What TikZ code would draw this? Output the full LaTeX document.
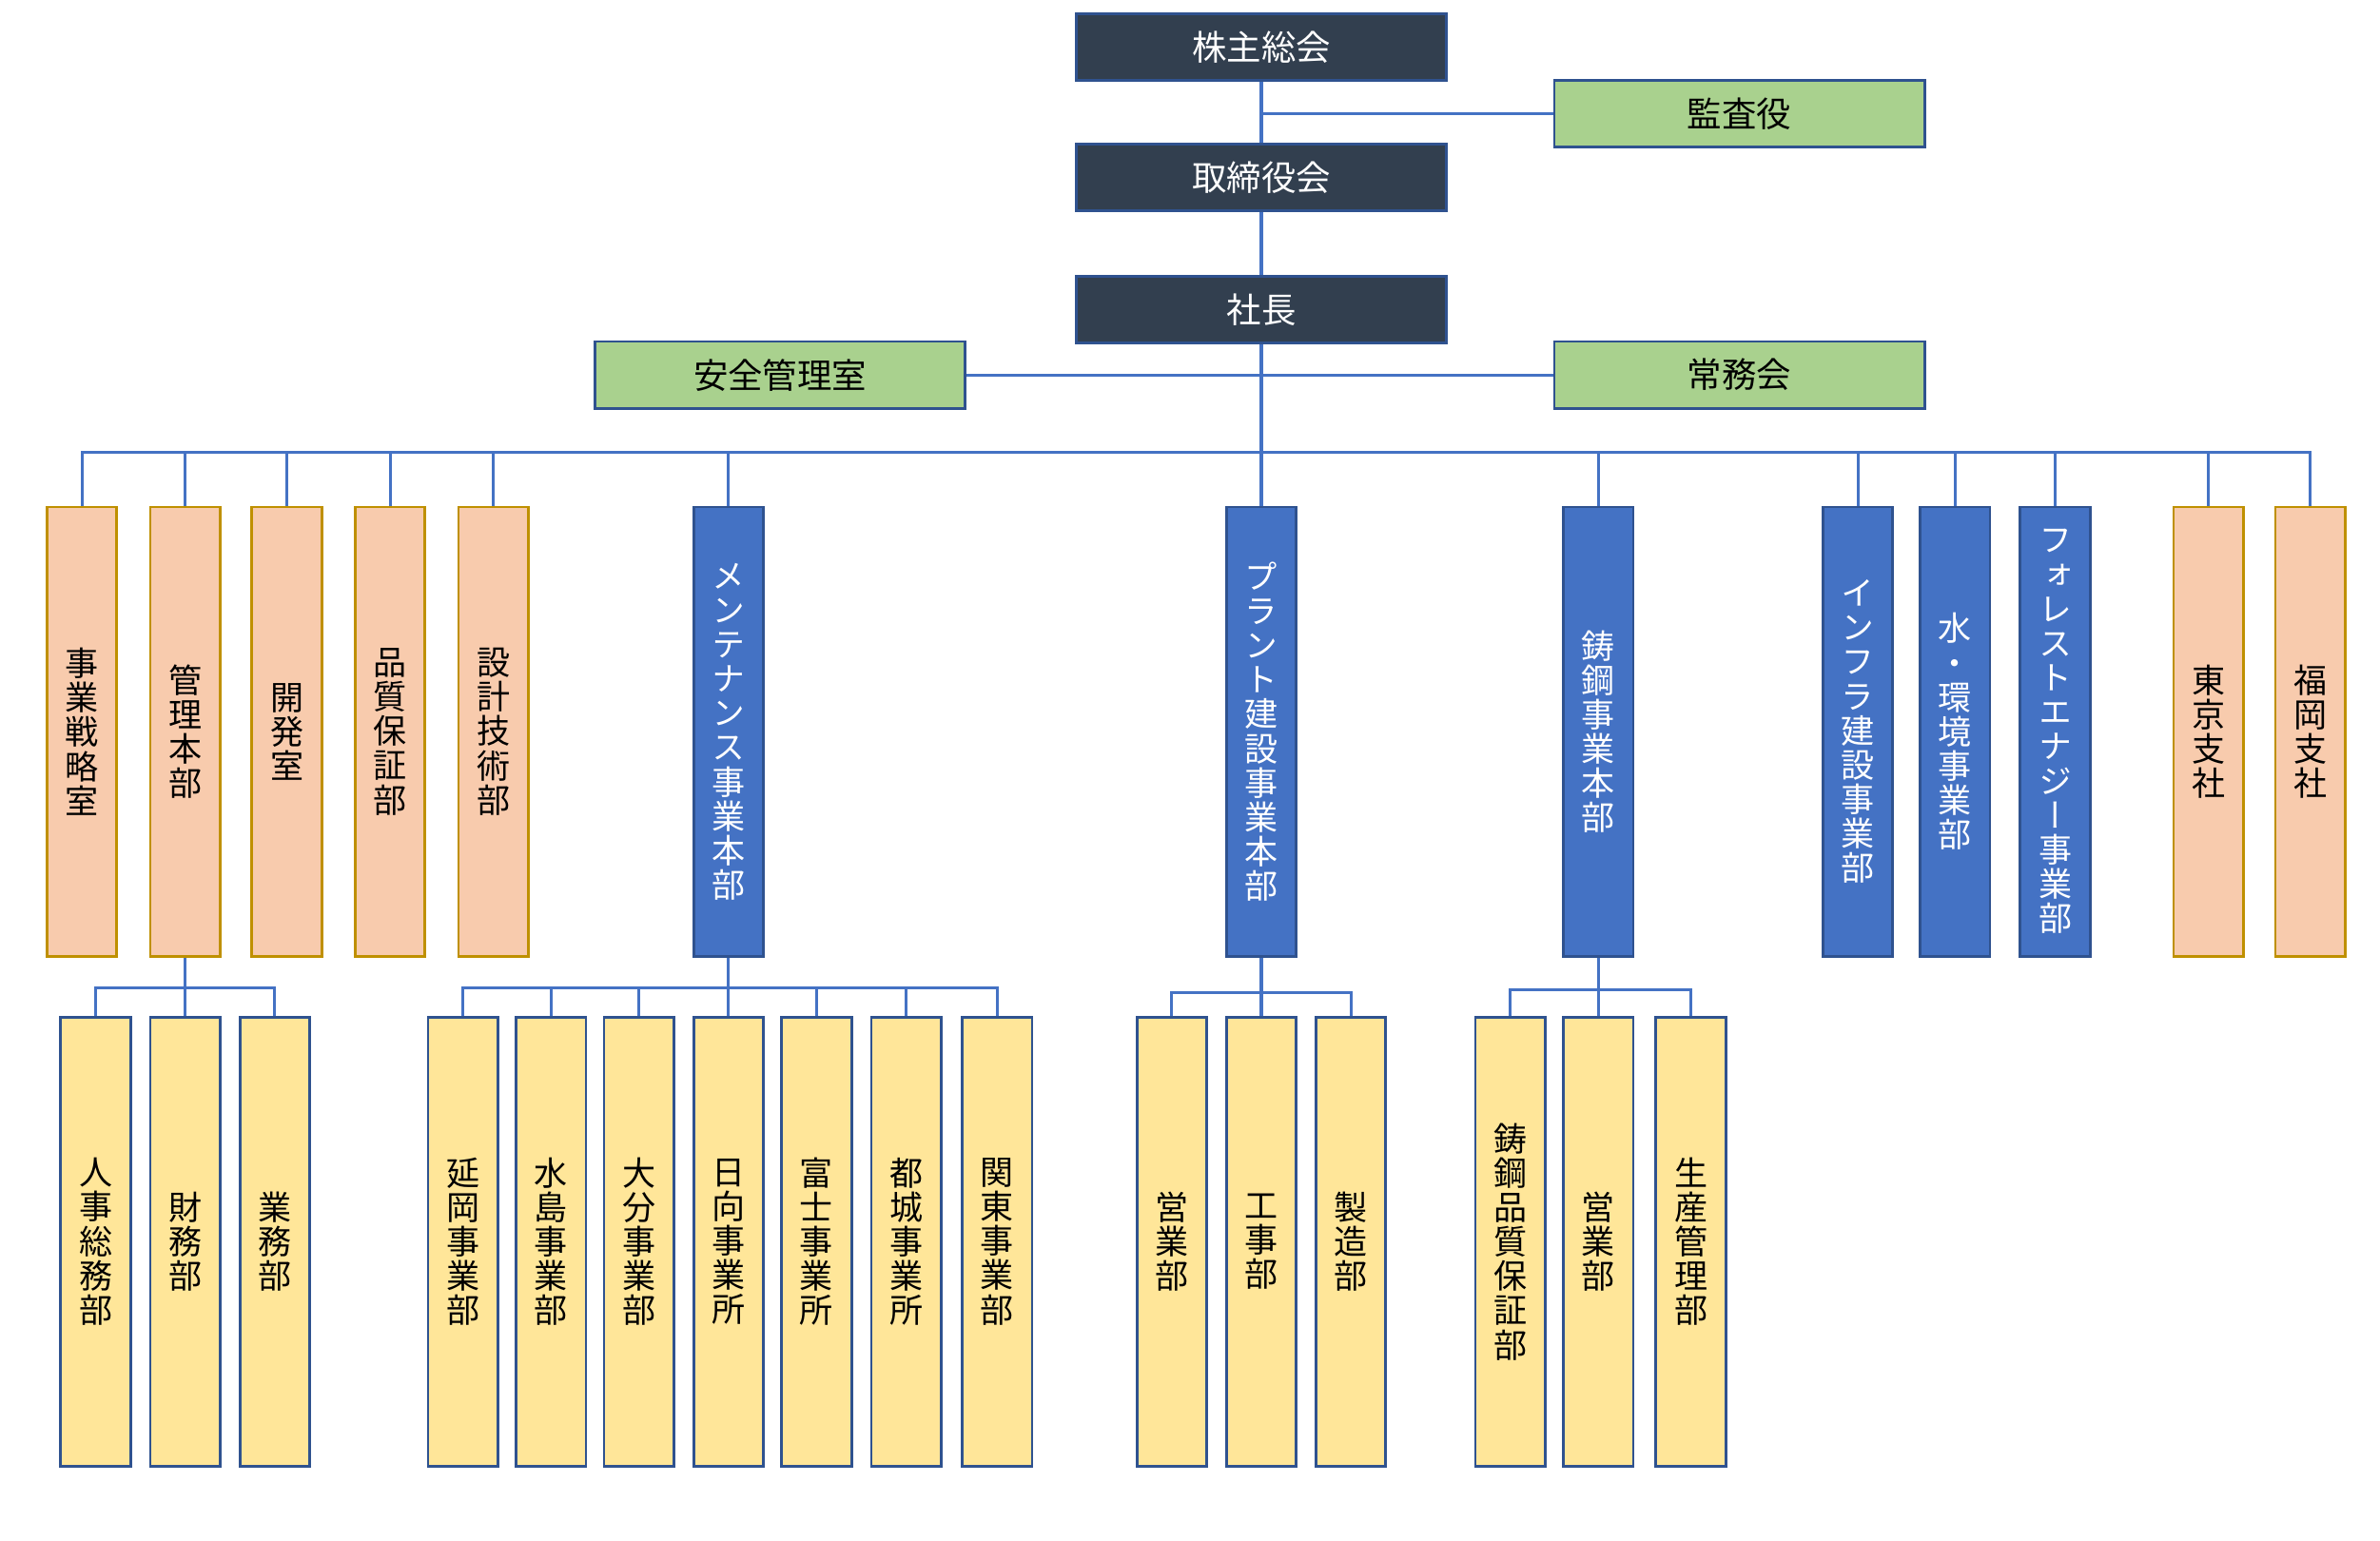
\documentclass[tikz,border=0pt]{standalone}
\usepackage{fontspec}
\setmainfont{Noto Sans CJK JP}
\newfontfamily\tatefont[RawFeature=+vert]{Noto Sans CJK JP}
\definecolor{frameblue}{HTML}{2F528F}
\definecolor{lineblue}{HTML}{4472C4}
\definecolor{boardfill}{HTML}{323F4F}
\definecolor{staffgreen}{HTML}{A9D18E}
\definecolor{deptfill}{HTML}{F8CBAD}
\definecolor{deptframe}{HTML}{BF9000}
\definecolor{sectfill}{HTML}{FFE699}
\makeatletter
\newcommand\tate[1]{\vbox{\tatefont\@tfor\tatech:=#1\do{\hbox to 1em{\hss\tatech\hss}}}}
\makeatother
\begin{document}
\begin{tikzpicture}[x=0.02cm, y=-0.02cm, line width=1.1pt, draw=lineblue,
	font=\fontsize{12.5}{12.9}\selectfont,
	boardbox/.style={draw=frameblue, line width=1pt, fill=boardfill, text=white,
		minimum width=4.88cm, minimum height=0.88cm, inner sep=0pt,
		font=\fontsize{13}{14}\selectfont},
	staffbox/.style={boardbox, fill=staffgreen, text=black},
	colbox/.style={draw=frameblue, line width=1pt, minimum width=0.92cm,
		minimum height=5.92cm, inner sep=0pt},
	deptbox/.style={colbox, draw=deptframe, fill=deptfill},
	unitbox/.style={colbox, fill=lineblue, text=white},
	sectbox/.style={colbox, fill=sectfill}]
\useasboundingbox (0,0) rectangle (1568,1015);

\node[boardbox] (kabunushi)   at (831,31)  {株主総会};
\node[staffbox] (kansa)       at (1146,75) {監査役};
\node[boardbox] (torishimari) at (831,117) {取締役会};
\node[boardbox] (shacho)      at (831,204) {社長};
\node[staffbox] (anzen)       at (514,247) {安全管理室};
\node[staffbox] (jomu)        at (1146,247) {常務会};

\node[deptbox] (senryaku)  at (54,482)   {\tate{事業戦略室}};
\node[deptbox] (kanri)     at (122,482)  {\tate{管理本部}};
\node[deptbox] (kaihatsu)  at (189,482)  {\tate{開発室}};
\node[deptbox] (hinshitsu) at (257,482)  {\tate{品質保証部}};
\node[deptbox] (sekkei)    at (325,482)  {\tate{設計技術部}};
\node[unitbox] (maint)     at (480,482)  {\tate{メンテナンス事業本部}};
\node[unitbox] (plant)     at (831,482)  {\tate{プラント建設事業本部}};
\node[unitbox] (chuko)     at (1053,482) {\tate{鋳鋼事業本部}};
\node[unitbox] (infra)     at (1224,482) {\tate{インフラ建設事業部}};
\node[unitbox] (mizu)      at (1288,482) {\tate{水・環境事業部}};
\node[unitbox] (forest)    at (1354,482) {\tate{フォレストエナジー事業部}};
\node[deptbox] (tokyo)     at (1455,482) {\tate{東京支社}};
\node[deptbox] (fukuoka)   at (1522,482) {\tate{福岡支社}};

\node[sectbox] (jinji)       at (63,818)   {\tate{人事総務部}};
\node[sectbox] (zaimu)       at (122,818)  {\tate{財務部}};
\node[sectbox] (gyomu)       at (181,818)  {\tate{業務部}};
\node[sectbox] (nobeoka)     at (305,818)  {\tate{延岡事業部}};
\node[sectbox] (mizushima)   at (363,818)  {\tate{水島事業部}};
\node[sectbox] (oita)        at (421,818)  {\tate{大分事業部}};
\node[sectbox] (hyuga)       at (480,818)  {\tate{日向事業所}};
\node[sectbox] (fuji)        at (538,818)  {\tate{富士事業所}};
\node[sectbox] (miyakonojo)  at (597,818)  {\tate{都城事業所}};
\node[sectbox] (kanto)       at (657,818)  {\tate{関東事業部}};
\node[sectbox] (p-eigyo)     at (772,818)  {\tate{営業部}};
\node[sectbox] (koji)        at (831,818)  {\tate{工事部}};
\node[sectbox] (seizo)       at (890,818)  {\tate{製造部}};
\node[sectbox] (c-hinshitsu) at (995,818)  {\tate{鋳鋼品質保証部}};
\node[sectbox] (c-eigyo)     at (1053,818) {\tate{営業部}};
\node[sectbox] (seisan)      at (1114,818) {\tate{生産管理部}};

% top of the chart
\draw (kabunushi) -- (torishimari) -- (shacho);
\draw (kansa.west) -- (kansa.west -| kabunushi.south);
\draw (anzen) -- (jomu);

% main bus
\coordinate (bus) at (831,298);
\draw (shacho) -- (plant);
\draw (senryaku.north) |- (bus) -| (fukuoka.north);
\foreach \d in {kanri,kaihatsu,hinshitsu,sekkei,maint,chuko,infra,mizu,forest,tokyo}
	\draw (\d.north) -- (\d.north |- bus);

% sub buses
\path (kanri.south) ++(0,20) coordinate (kanri-b);
\draw (kanri) -- (zaimu);
\draw (jinji.north) |- (kanri-b) -| (gyomu.north);

\path (maint.south) ++(0,20) coordinate (maint-b);
\draw (maint) -- (hyuga);
\draw (nobeoka.north) |- (maint-b) -| (kanto.north);
\foreach \d in {mizushima,oita,fuji,miyakonojo}
	\draw (\d.north) -- (\d.north |- maint-b);

\path (plant.south) ++(0,23) coordinate (plant-b);
\draw (plant) -- (koji);
\draw (p-eigyo.north) |- (plant-b) -| (seizo.north);

\path (chuko.south) ++(0,21) coordinate (chuko-b);
\draw (chuko) -- (c-eigyo);
\draw (c-hinshitsu.north) |- (chuko-b) -| (seisan.north);
\end{tikzpicture}
\end{document}
